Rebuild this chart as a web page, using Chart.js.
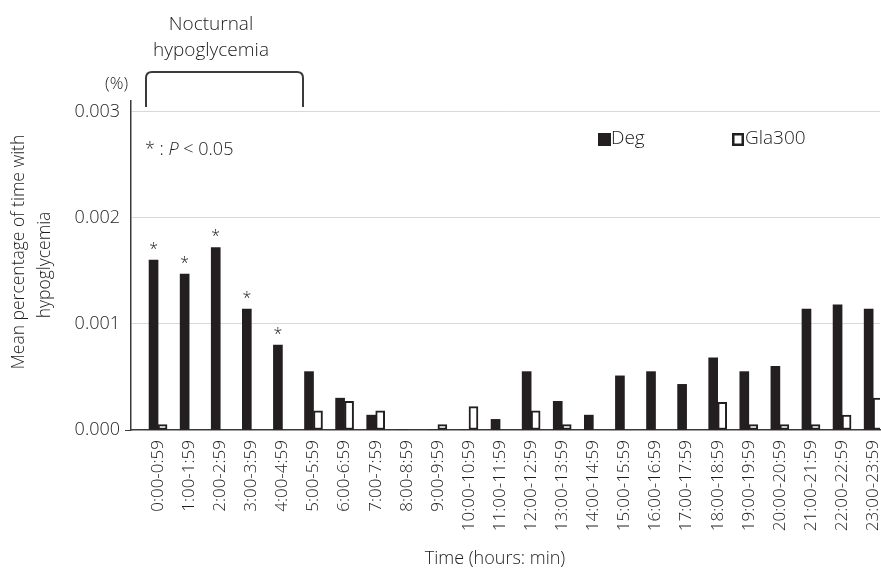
<!DOCTYPE html>
<html><head><meta charset="utf-8">
<script src="https://cdn.jsdelivr.net/npm/chart.js@4/dist/chart.umd.min.js"></script>
<style>html,body{margin:0;padding:0;background:#fff}</style>
</head><body>
<canvas id="c" width="881" height="569"></canvas>
<script>
const categories = ['0:00-0:59','1:00-1:59','2:00-2:59','3:00-3:59','4:00-4:59','5:00-5:59',
  '6:00-6:59','7:00-7:59','8:00-8:59','9:00-9:59','10:00-10:59','11:00-11:59',
  '12:00-12:59','13:00-13:59','14:00-14:59','15:00-15:59','16:00-16:59','17:00-17:59',
  '18:00-18:59','19:00-19:59','20:00-20:59','21:00-21:59','22:00-22:59','23:00-23:59'];
const degValues = [0.0016,0.00147,0.00172,0.00114,0.0008,0.00055,0.0003,0.00014,0,0,0,0.0001,
  0.00055,0.00027,0.00014,0.00051,0.00055,0.00043,0.00068,0.00055,0.0006,0.00114,0.00118,0.00114];
const gla300Values = [0.00005,0,0,0,0,0.00018,0.00027,0.00018,0,0.00005,0.00022,0,
  0.00018,0.00005,0,0,0,0,0.00026,0.00005,0.00005,0.00005,0.00014,0.0003];
const significant = [true,true,true,true,true,false,false,false,false,false,false,false,
  false,false,false,false,false,false,false,false,false,false,false,false];
const seriesNames = ['Deg','Gla300'];
const xTitle = 'Time (hours: min)';
const yTitleLines = ['Mean percentage of time with', 'hypoglycemia'];

const FONT = '"Open Sans", "Noto Sans", sans-serif';
const TXT = '#1c1c1c';
const INK = '#231f20';

const annotations = {
  id: 'annotations',
  afterDraw(chart) {
    const ctx = chart.ctx;
    ctx.save();
    ctx.fillStyle = TXT;
    ctx.textBaseline = 'middle';
    // (%)
    ctx.font = '300 17px ' + FONT;
    ctx.textAlign = 'right';
    ctx.fillText('(%)', 128, 84);
    // Nocturnal hypoglycemia
    ctx.font = '300 19px ' + FONT;
    ctx.textAlign = 'center';
    ctx.fillText('Nocturnal', 211, 25);
    ctx.fillText('hypoglycemia', 211, 51);
    // bracket
    ctx.strokeStyle = '#3a3a3a';
    ctx.lineWidth = 2;
    ctx.beginPath();
    ctx.moveTo(146, 107);
    ctx.lineTo(146, 78);
    ctx.quadraticCurveTo(146, 72, 152, 72);
    ctx.lineTo(297, 72);
    ctx.quadraticCurveTo(303, 72, 303, 78);
    ctx.lineTo(303, 107);
    ctx.stroke();
    // * : P < 0.05
    ctx.textAlign = 'left';
    let x = 145;
    ctx.font = '300 18px ' + FONT;
    ctx.fillText('* : ', x, 150); x += ctx.measureText('* : ').width;
    ctx.font = 'italic 300 18px ' + FONT;
    ctx.fillText('P', x, 150); x += ctx.measureText('P ').width;
    ctx.font = '300 18px ' + FONT;
    ctx.fillText('< 0.05', x, 150);
    // legend
    ctx.font = '300 19px ' + FONT;
    const ds = chart.data.datasets;
    const legendX = [598, 732];
    ds.forEach((d, i) => {
      const bx = legendX[i];
      if (i === 0) {
        ctx.fillStyle = INK;
        ctx.fillRect(bx, 133, 13, 13);
      } else {
        ctx.fillStyle = '#fff';
        ctx.fillRect(bx, 133, 12, 13);
        ctx.strokeStyle = INK;
        ctx.lineWidth = 2.5;
        ctx.strokeRect(bx + 1.25, 134.25, 9.5, 10.5);
      }
      ctx.fillStyle = TXT;
      ctx.fillText(d.label, bx + 13, 139);
    });
    // axis titles
    ctx.font = '300 18px ' + FONT;
    ctx.textAlign = 'center';
    ctx.fillText(xTitle, 495, 559);
    ctx.font = '300 17.5px ' + FONT;
    ctx.save();
    ctx.translate(19, 252); ctx.rotate(-Math.PI / 2);
    ctx.fillText(yTitleLines[0], 0, 0);
    ctx.restore();
    ctx.save();
    ctx.translate(45, 265); ctx.rotate(-Math.PI / 2);
    ctx.fillText(yTitleLines[1], 0, 0);
    ctx.restore();
    // significance asterisks
    const meta = chart.getDatasetMeta(0);
    ctx.font = '300 16px ' + FONT;
    ctx.textAlign = 'center';
    ctx.textBaseline = 'alphabetic';
    significant.forEach((s, i) => {
      if (!s) return;
      const el = meta.data[i];
      ctx.fillText('*', el.x, el.y - 6);
    });
    ctx.restore();
  }
};

new Chart(document.getElementById('c'), {
  type: 'bar',
  data: {
    datasets: [
      { label: seriesNames[0], data: degValues.map((v, i) => ({x: i, y: v})),
        backgroundColor: INK, borderWidth: 0, barThickness: 9 },
      { label: seriesNames[1], data: gla300Values.map((v, i) => ({x: i, y: v})),
        backgroundColor: '#fff', borderColor: INK, borderWidth: 2, borderSkipped: false, barThickness: 9 }
    ]
  },
  options: {
    responsive: false,
    animation: false,
    layout: { padding: { left: 0, top: 101, right: 1, bottom: 0 } },
    plugins: { legend: { display: false }, tooltip: { enabled: false } },
    scales: {
      x: {
        type: 'linear', min: -0.87, max: 23.22, offset: false,
        grid: { display: true, drawOnChartArea: false, drawTicks: false, offset: false },
        border: { display: true, color: '#3a3a3a', width: 1.5 },
        ticks: {
          stepSize: 1, autoSkip: false, includeBounds: false, minRotation: 90, maxRotation: 90,
          padding: 10, color: TXT, font: { family: FONT, size: 17, weight: 300 },
          callback: v => (Number.isInteger(v) && categories[v] !== undefined) ? categories[v] : ''
        },
        afterFit: s => { s.height = 139; s.paddingLeft = 0; s.paddingRight = 0; }
      },
      y: {
        min: 0, max: 0.0031,
        ticks: { stepSize: 0.001, includeBounds: false, padding: 5, color: TXT,
          font: { family: FONT, size: 18, weight: 300 }, callback: v => v.toFixed(3) },
        grid: {
          color: c => (c.tick && c.tick.value === 0) ? 'rgba(0,0,0,0)' : '#d9d9d9',
          tickColor: c => (c.tick && c.tick.value === 0) ? '#3a3a3a' : 'rgba(0,0,0,0)',
          tickLength: 6, lineWidth: 1
        },
        border: { display: true, color: '#3a3a3a', width: 1.5 },
        afterFit: s => { s.width = 131; s.paddingTop = 0; s.paddingBottom = 0; }
      }
    }
  },
  plugins: [annotations]
});
</script>
</body></html>
